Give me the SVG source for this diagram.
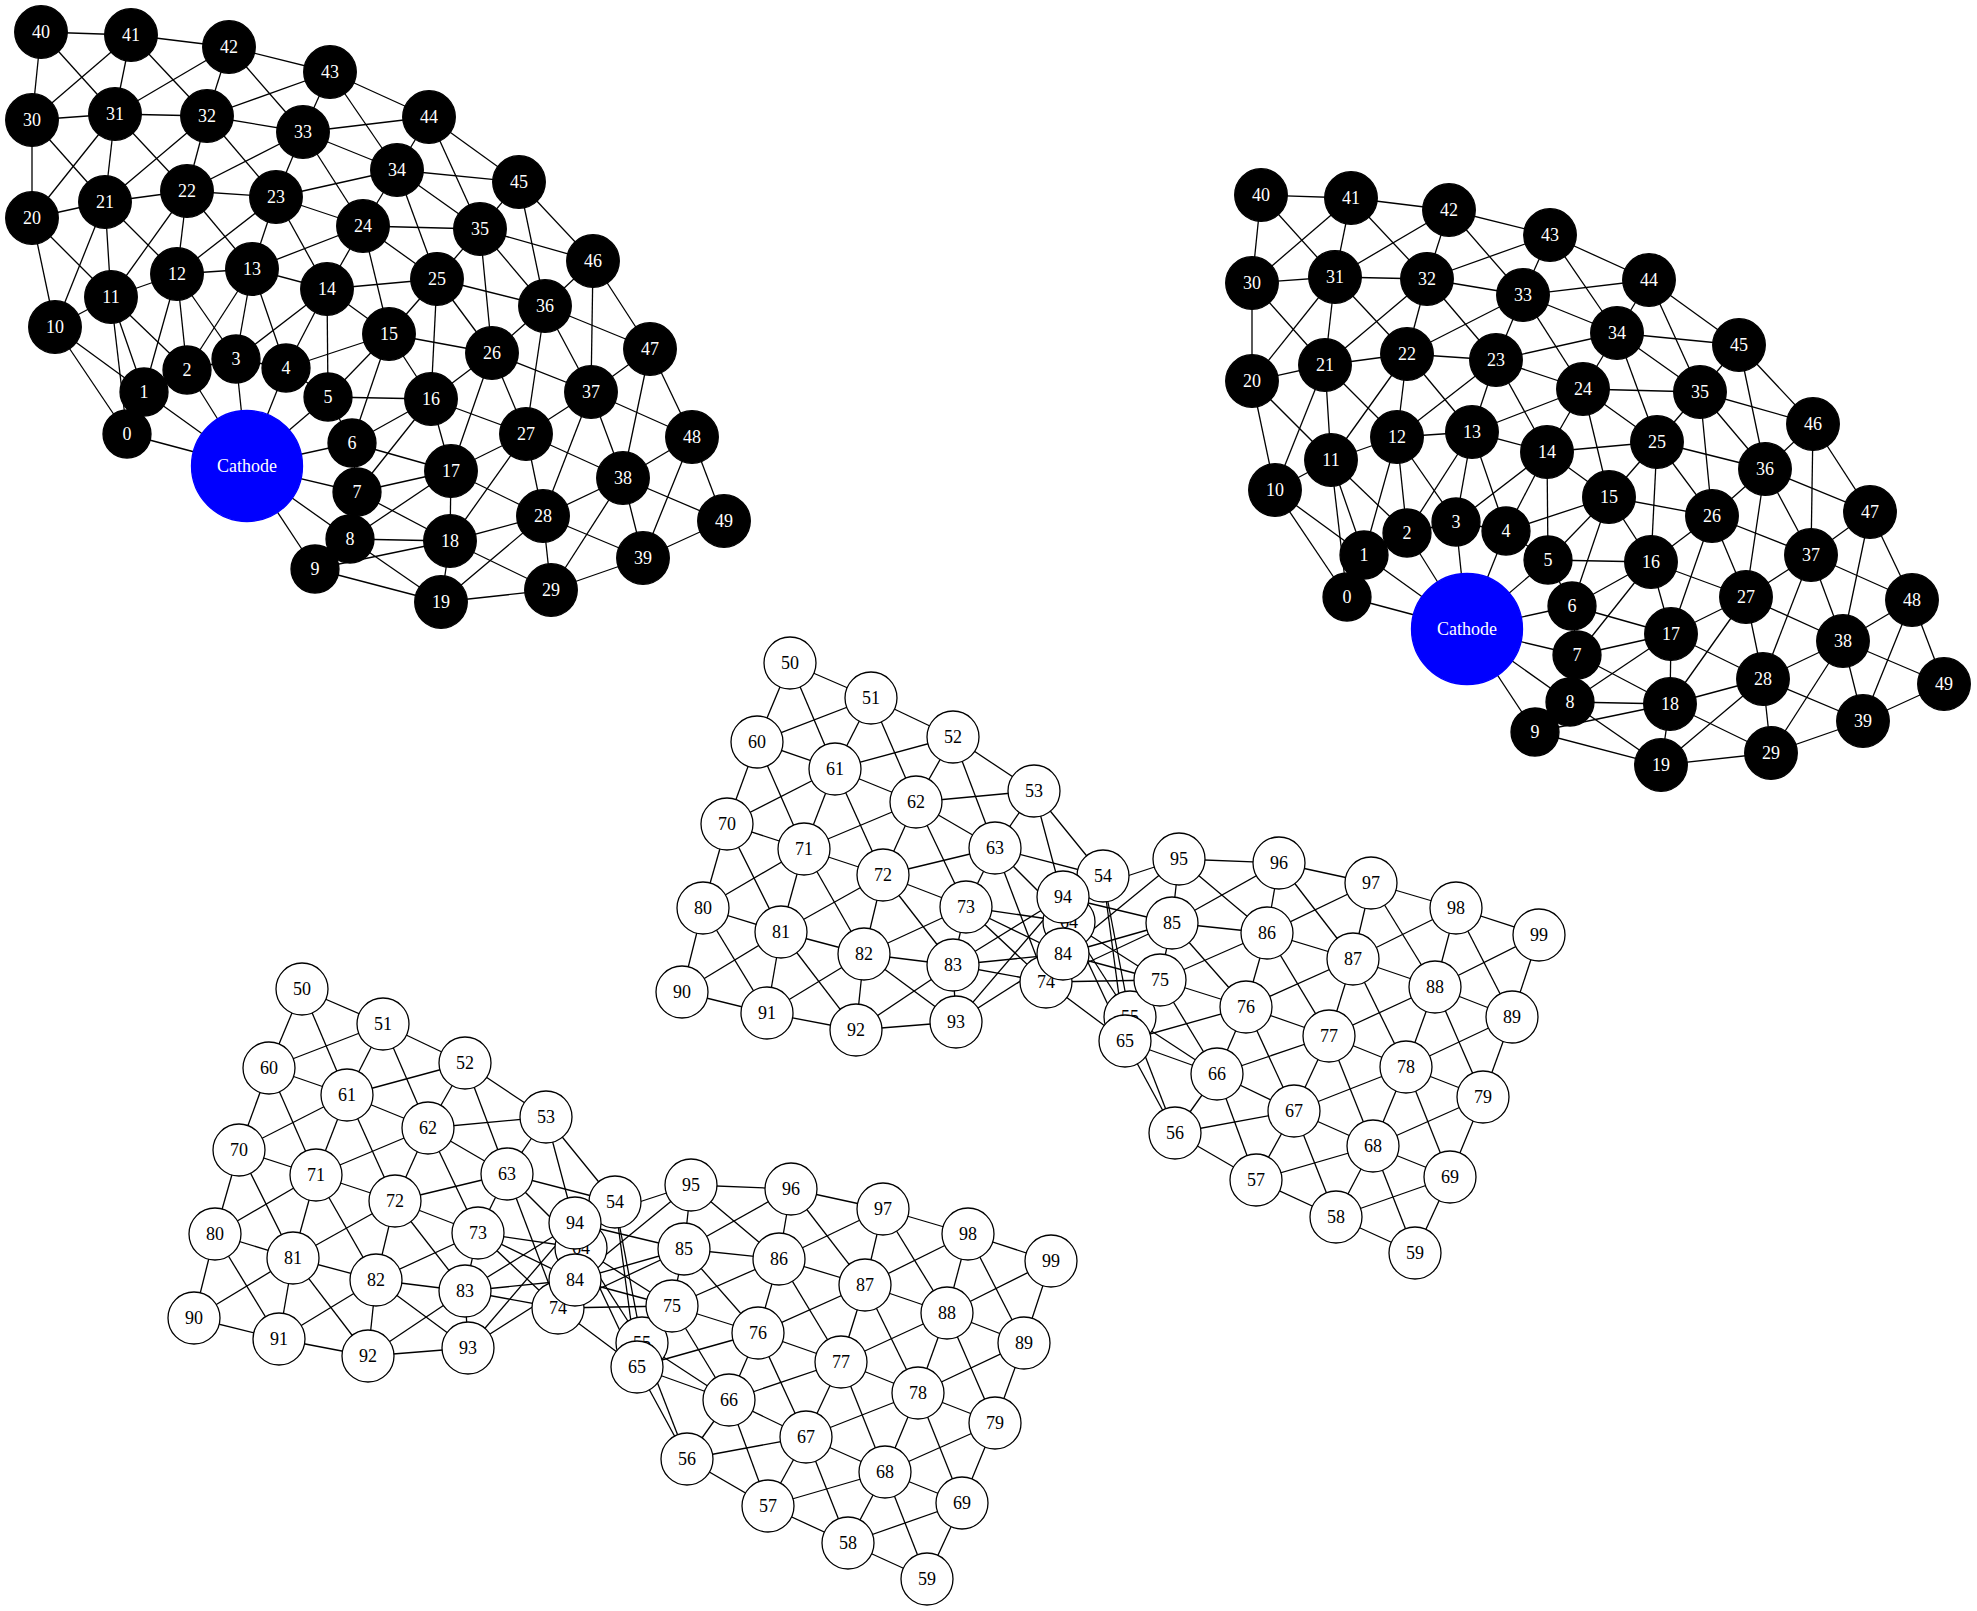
<svg xmlns="http://www.w3.org/2000/svg" width="1977" height="1611" viewBox="0 0 1977 1611">
<style>
.e path{stroke:#000;stroke-width:1.3;fill:none}
.b circle{fill:#000;stroke:#000;stroke-width:1.3}
.b text{fill:#fff}
.w circle{fill:#fff;stroke:#000;stroke-width:1.3}
.w text{fill:#000}
.c circle{fill:#0000ff;stroke:#0000ff;stroke-width:1.3}
.c text{fill:#fff}
text{font-family:"Liberation Serif","Times New Roman",serif;font-size:18px;text-anchor:middle}
</style>
<rect width="1977" height="1611" fill="#fff"/>

<g id="cluster-black-left">
<g id="edges-black-left" class="e">
<path d="M247 466L127 434"/><path d="M247 466L144 392"/><path d="M247 466L187 370"/><path d="M247 466L236 359"/><path d="M247 466L286 368"/><path d="M247 466L328 397"/><path d="M247 466L352 443"/><path d="M247 466L357 492"/><path d="M247 466L350 539"/><path d="M247 466L315 569"/>
<path d="M127 434L144 392"/><path d="M144 392L187 370"/><path d="M187 370L236 359"/><path d="M236 359L286 368"/><path d="M286 368L328 397"/><path d="M328 397L352 443"/><path d="M352 443L357 492"/><path d="M357 492L350 539"/><path d="M350 539L315 569"/>
<path d="M127 434L55 327"/><path d="M144 392L111 297"/><path d="M187 370L177 274"/><path d="M236 359L252 269"/><path d="M286 368L327 289"/><path d="M328 397L389 334"/><path d="M352 443L431 399"/><path d="M357 492L451 471"/><path d="M350 539L450 541"/><path d="M315 569L441 602"/>
<path d="M144 392L55 327"/><path d="M187 370L111 297"/><path d="M236 359L177 274"/><path d="M286 368L252 269"/><path d="M328 397L327 289"/><path d="M352 443L389 334"/><path d="M357 492L431 399"/><path d="M350 539L451 471"/><path d="M315 569L450 541"/>
<path d="M127 434L111 297"/><path d="M144 392L177 274"/><path d="M187 370L252 269"/><path d="M236 359L327 289"/><path d="M286 368L389 334"/><path d="M328 397L431 399"/><path d="M352 443L451 471"/><path d="M357 492L450 541"/><path d="M350 539L441 602"/>
<path d="M55 327L111 297"/><path d="M111 297L177 274"/><path d="M177 274L252 269"/><path d="M252 269L327 289"/><path d="M327 289L389 334"/><path d="M389 334L431 399"/><path d="M431 399L451 471"/><path d="M451 471L450 541"/><path d="M450 541L441 602"/>
<path d="M55 327L32 218"/><path d="M111 297L105 202"/><path d="M177 274L187 191"/><path d="M252 269L276 197"/><path d="M327 289L363 226"/><path d="M389 334L437 279"/><path d="M431 399L492 353"/><path d="M451 471L526 434"/><path d="M450 541L543 516"/><path d="M441 602L551 590"/>
<path d="M111 297L32 218"/><path d="M177 274L105 202"/><path d="M252 269L187 191"/><path d="M327 289L276 197"/><path d="M389 334L363 226"/><path d="M431 399L437 279"/><path d="M451 471L492 353"/><path d="M450 541L526 434"/><path d="M441 602L543 516"/>
<path d="M55 327L105 202"/><path d="M111 297L187 191"/><path d="M177 274L276 197"/><path d="M252 269L363 226"/><path d="M327 289L437 279"/><path d="M389 334L492 353"/><path d="M431 399L526 434"/><path d="M451 471L543 516"/><path d="M450 541L551 590"/>
<path d="M32 218L105 202"/><path d="M105 202L187 191"/><path d="M187 191L276 197"/><path d="M276 197L363 226"/><path d="M363 226L437 279"/><path d="M437 279L492 353"/><path d="M492 353L526 434"/><path d="M526 434L543 516"/><path d="M543 516L551 590"/>
<path d="M32 218L32 120"/><path d="M105 202L115 114"/><path d="M187 191L207 116"/><path d="M276 197L303 132"/><path d="M363 226L397 170"/><path d="M437 279L480 229"/><path d="M492 353L545 306"/><path d="M526 434L591 392"/><path d="M543 516L623 478"/><path d="M551 590L643 558"/>
<path d="M105 202L32 120"/><path d="M187 191L115 114"/><path d="M276 197L207 116"/><path d="M363 226L303 132"/><path d="M437 279L397 170"/><path d="M492 353L480 229"/><path d="M526 434L545 306"/><path d="M543 516L591 392"/><path d="M551 590L623 478"/>
<path d="M32 218L115 114"/><path d="M105 202L207 116"/><path d="M187 191L303 132"/><path d="M276 197L397 170"/><path d="M363 226L480 229"/><path d="M437 279L545 306"/><path d="M492 353L591 392"/><path d="M526 434L623 478"/><path d="M543 516L643 558"/>
<path d="M32 120L115 114"/><path d="M115 114L207 116"/><path d="M207 116L303 132"/><path d="M303 132L397 170"/><path d="M397 170L480 229"/><path d="M480 229L545 306"/><path d="M545 306L591 392"/><path d="M591 392L623 478"/><path d="M623 478L643 558"/>
<path d="M32 120L41 32"/><path d="M115 114L131 35"/><path d="M207 116L229 47"/><path d="M303 132L330 72"/><path d="M397 170L429 117"/><path d="M480 229L519 182"/><path d="M545 306L593 261"/><path d="M591 392L650 349"/><path d="M623 478L692 437"/><path d="M643 558L724 521"/>
<path d="M115 114L41 32"/><path d="M207 116L131 35"/><path d="M303 132L229 47"/><path d="M397 170L330 72"/><path d="M480 229L429 117"/><path d="M545 306L519 182"/><path d="M591 392L593 261"/><path d="M623 478L650 349"/><path d="M643 558L692 437"/>
<path d="M32 120L131 35"/><path d="M115 114L229 47"/><path d="M207 116L330 72"/><path d="M303 132L429 117"/><path d="M397 170L519 182"/><path d="M480 229L593 261"/><path d="M545 306L650 349"/><path d="M591 392L692 437"/><path d="M623 478L724 521"/>
<path d="M41 32L131 35"/><path d="M131 35L229 47"/><path d="M229 47L330 72"/><path d="M330 72L429 117"/><path d="M429 117L519 182"/><path d="M519 182L593 261"/><path d="M593 261L650 349"/><path d="M650 349L692 437"/><path d="M692 437L724 521"/>
</g>
<g id="nodes-black-left">
<g id="L-cathode" class="c"><circle cx="247" cy="466" r="55.5"/><text x="247" y="472">Cathode</text></g>
<g id="L0" class="b"><circle cx="127" cy="434" r="24"/><text x="127" y="440">0</text></g>
<g id="L1" class="b"><circle cx="144" cy="392" r="24"/><text x="144" y="398">1</text></g>
<g id="L2" class="b"><circle cx="187" cy="370" r="24"/><text x="187" y="376">2</text></g>
<g id="L3" class="b"><circle cx="236" cy="359" r="24"/><text x="236" y="365">3</text></g>
<g id="L4" class="b"><circle cx="286" cy="368" r="24"/><text x="286" y="374">4</text></g>
<g id="L5" class="b"><circle cx="328" cy="397" r="24"/><text x="328" y="403">5</text></g>
<g id="L6" class="b"><circle cx="352" cy="443" r="24"/><text x="352" y="449">6</text></g>
<g id="L7" class="b"><circle cx="357" cy="492" r="24"/><text x="357" y="498">7</text></g>
<g id="L8" class="b"><circle cx="350" cy="539" r="24"/><text x="350" y="545">8</text></g>
<g id="L9" class="b"><circle cx="315" cy="569" r="24"/><text x="315" y="575">9</text></g>
<g id="L10" class="b"><circle cx="55" cy="327" r="26.3"/><text x="55" y="333">10</text></g>
<g id="L11" class="b"><circle cx="111" cy="297" r="26.3"/><text x="111" y="303">11</text></g>
<g id="L12" class="b"><circle cx="177" cy="274" r="26.3"/><text x="177" y="280">12</text></g>
<g id="L13" class="b"><circle cx="252" cy="269" r="26.3"/><text x="252" y="275">13</text></g>
<g id="L14" class="b"><circle cx="327" cy="289" r="26.3"/><text x="327" y="295">14</text></g>
<g id="L15" class="b"><circle cx="389" cy="334" r="26.3"/><text x="389" y="340">15</text></g>
<g id="L16" class="b"><circle cx="431" cy="399" r="26.3"/><text x="431" y="405">16</text></g>
<g id="L17" class="b"><circle cx="451" cy="471" r="26.3"/><text x="451" y="477">17</text></g>
<g id="L18" class="b"><circle cx="450" cy="541" r="26.3"/><text x="450" y="547">18</text></g>
<g id="L19" class="b"><circle cx="441" cy="602" r="26.3"/><text x="441" y="608">19</text></g>
<g id="L20" class="b"><circle cx="32" cy="218" r="26.3"/><text x="32" y="224">20</text></g>
<g id="L21" class="b"><circle cx="105" cy="202" r="26.3"/><text x="105" y="208">21</text></g>
<g id="L22" class="b"><circle cx="187" cy="191" r="26.3"/><text x="187" y="197">22</text></g>
<g id="L23" class="b"><circle cx="276" cy="197" r="26.3"/><text x="276" y="203">23</text></g>
<g id="L24" class="b"><circle cx="363" cy="226" r="26.3"/><text x="363" y="232">24</text></g>
<g id="L25" class="b"><circle cx="437" cy="279" r="26.3"/><text x="437" y="285">25</text></g>
<g id="L26" class="b"><circle cx="492" cy="353" r="26.3"/><text x="492" y="359">26</text></g>
<g id="L27" class="b"><circle cx="526" cy="434" r="26.3"/><text x="526" y="440">27</text></g>
<g id="L28" class="b"><circle cx="543" cy="516" r="26.3"/><text x="543" y="522">28</text></g>
<g id="L29" class="b"><circle cx="551" cy="590" r="26.3"/><text x="551" y="596">29</text></g>
<g id="L30" class="b"><circle cx="32" cy="120" r="26.3"/><text x="32" y="126">30</text></g>
<g id="L31" class="b"><circle cx="115" cy="114" r="26.3"/><text x="115" y="120">31</text></g>
<g id="L32" class="b"><circle cx="207" cy="116" r="26.3"/><text x="207" y="122">32</text></g>
<g id="L33" class="b"><circle cx="303" cy="132" r="26.3"/><text x="303" y="138">33</text></g>
<g id="L34" class="b"><circle cx="397" cy="170" r="26.3"/><text x="397" y="176">34</text></g>
<g id="L35" class="b"><circle cx="480" cy="229" r="26.3"/><text x="480" y="235">35</text></g>
<g id="L36" class="b"><circle cx="545" cy="306" r="26.3"/><text x="545" y="312">36</text></g>
<g id="L37" class="b"><circle cx="591" cy="392" r="26.3"/><text x="591" y="398">37</text></g>
<g id="L38" class="b"><circle cx="623" cy="478" r="26.3"/><text x="623" y="484">38</text></g>
<g id="L39" class="b"><circle cx="643" cy="558" r="26.3"/><text x="643" y="564">39</text></g>
<g id="L40" class="b"><circle cx="41" cy="32" r="26.3"/><text x="41" y="38">40</text></g>
<g id="L41" class="b"><circle cx="131" cy="35" r="26.3"/><text x="131" y="41">41</text></g>
<g id="L42" class="b"><circle cx="229" cy="47" r="26.3"/><text x="229" y="53">42</text></g>
<g id="L43" class="b"><circle cx="330" cy="72" r="26.3"/><text x="330" y="78">43</text></g>
<g id="L44" class="b"><circle cx="429" cy="117" r="26.3"/><text x="429" y="123">44</text></g>
<g id="L45" class="b"><circle cx="519" cy="182" r="26.3"/><text x="519" y="188">45</text></g>
<g id="L46" class="b"><circle cx="593" cy="261" r="26.3"/><text x="593" y="267">46</text></g>
<g id="L47" class="b"><circle cx="650" cy="349" r="26.3"/><text x="650" y="355">47</text></g>
<g id="L48" class="b"><circle cx="692" cy="437" r="26.3"/><text x="692" y="443">48</text></g>
<g id="L49" class="b"><circle cx="724" cy="521" r="26.3"/><text x="724" y="527">49</text></g>
</g>
</g>

<g id="cluster-black-right" transform="translate(1220,163)">
<g id="edges-black-right" class="e">
<path d="M247 466L127 434"/><path d="M247 466L144 392"/><path d="M247 466L187 370"/><path d="M247 466L236 359"/><path d="M247 466L286 368"/><path d="M247 466L328 397"/><path d="M247 466L352 443"/><path d="M247 466L357 492"/><path d="M247 466L350 539"/><path d="M247 466L315 569"/>
<path d="M127 434L144 392"/><path d="M144 392L187 370"/><path d="M187 370L236 359"/><path d="M236 359L286 368"/><path d="M286 368L328 397"/><path d="M328 397L352 443"/><path d="M352 443L357 492"/><path d="M357 492L350 539"/><path d="M350 539L315 569"/>
<path d="M127 434L55 327"/><path d="M144 392L111 297"/><path d="M187 370L177 274"/><path d="M236 359L252 269"/><path d="M286 368L327 289"/><path d="M328 397L389 334"/><path d="M352 443L431 399"/><path d="M357 492L451 471"/><path d="M350 539L450 541"/><path d="M315 569L441 602"/>
<path d="M144 392L55 327"/><path d="M187 370L111 297"/><path d="M236 359L177 274"/><path d="M286 368L252 269"/><path d="M328 397L327 289"/><path d="M352 443L389 334"/><path d="M357 492L431 399"/><path d="M350 539L451 471"/><path d="M315 569L450 541"/>
<path d="M127 434L111 297"/><path d="M144 392L177 274"/><path d="M187 370L252 269"/><path d="M236 359L327 289"/><path d="M286 368L389 334"/><path d="M328 397L431 399"/><path d="M352 443L451 471"/><path d="M357 492L450 541"/><path d="M350 539L441 602"/>
<path d="M55 327L111 297"/><path d="M111 297L177 274"/><path d="M177 274L252 269"/><path d="M252 269L327 289"/><path d="M327 289L389 334"/><path d="M389 334L431 399"/><path d="M431 399L451 471"/><path d="M451 471L450 541"/><path d="M450 541L441 602"/>
<path d="M55 327L32 218"/><path d="M111 297L105 202"/><path d="M177 274L187 191"/><path d="M252 269L276 197"/><path d="M327 289L363 226"/><path d="M389 334L437 279"/><path d="M431 399L492 353"/><path d="M451 471L526 434"/><path d="M450 541L543 516"/><path d="M441 602L551 590"/>
<path d="M111 297L32 218"/><path d="M177 274L105 202"/><path d="M252 269L187 191"/><path d="M327 289L276 197"/><path d="M389 334L363 226"/><path d="M431 399L437 279"/><path d="M451 471L492 353"/><path d="M450 541L526 434"/><path d="M441 602L543 516"/>
<path d="M55 327L105 202"/><path d="M111 297L187 191"/><path d="M177 274L276 197"/><path d="M252 269L363 226"/><path d="M327 289L437 279"/><path d="M389 334L492 353"/><path d="M431 399L526 434"/><path d="M451 471L543 516"/><path d="M450 541L551 590"/>
<path d="M32 218L105 202"/><path d="M105 202L187 191"/><path d="M187 191L276 197"/><path d="M276 197L363 226"/><path d="M363 226L437 279"/><path d="M437 279L492 353"/><path d="M492 353L526 434"/><path d="M526 434L543 516"/><path d="M543 516L551 590"/>
<path d="M32 218L32 120"/><path d="M105 202L115 114"/><path d="M187 191L207 116"/><path d="M276 197L303 132"/><path d="M363 226L397 170"/><path d="M437 279L480 229"/><path d="M492 353L545 306"/><path d="M526 434L591 392"/><path d="M543 516L623 478"/><path d="M551 590L643 558"/>
<path d="M105 202L32 120"/><path d="M187 191L115 114"/><path d="M276 197L207 116"/><path d="M363 226L303 132"/><path d="M437 279L397 170"/><path d="M492 353L480 229"/><path d="M526 434L545 306"/><path d="M543 516L591 392"/><path d="M551 590L623 478"/>
<path d="M32 218L115 114"/><path d="M105 202L207 116"/><path d="M187 191L303 132"/><path d="M276 197L397 170"/><path d="M363 226L480 229"/><path d="M437 279L545 306"/><path d="M492 353L591 392"/><path d="M526 434L623 478"/><path d="M543 516L643 558"/>
<path d="M32 120L115 114"/><path d="M115 114L207 116"/><path d="M207 116L303 132"/><path d="M303 132L397 170"/><path d="M397 170L480 229"/><path d="M480 229L545 306"/><path d="M545 306L591 392"/><path d="M591 392L623 478"/><path d="M623 478L643 558"/>
<path d="M32 120L41 32"/><path d="M115 114L131 35"/><path d="M207 116L229 47"/><path d="M303 132L330 72"/><path d="M397 170L429 117"/><path d="M480 229L519 182"/><path d="M545 306L593 261"/><path d="M591 392L650 349"/><path d="M623 478L692 437"/><path d="M643 558L724 521"/>
<path d="M115 114L41 32"/><path d="M207 116L131 35"/><path d="M303 132L229 47"/><path d="M397 170L330 72"/><path d="M480 229L429 117"/><path d="M545 306L519 182"/><path d="M591 392L593 261"/><path d="M623 478L650 349"/><path d="M643 558L692 437"/>
<path d="M32 120L131 35"/><path d="M115 114L229 47"/><path d="M207 116L330 72"/><path d="M303 132L429 117"/><path d="M397 170L519 182"/><path d="M480 229L593 261"/><path d="M545 306L650 349"/><path d="M591 392L692 437"/><path d="M623 478L724 521"/>
<path d="M41 32L131 35"/><path d="M131 35L229 47"/><path d="M229 47L330 72"/><path d="M330 72L429 117"/><path d="M429 117L519 182"/><path d="M519 182L593 261"/><path d="M593 261L650 349"/><path d="M650 349L692 437"/><path d="M692 437L724 521"/>
</g>
<g id="nodes-black-right">
<g id="R-cathode" class="c"><circle cx="247" cy="466" r="55.5"/><text x="247" y="472">Cathode</text></g>
<g id="R0" class="b"><circle cx="127" cy="434" r="24"/><text x="127" y="440">0</text></g>
<g id="R1" class="b"><circle cx="144" cy="392" r="24"/><text x="144" y="398">1</text></g>
<g id="R2" class="b"><circle cx="187" cy="370" r="24"/><text x="187" y="376">2</text></g>
<g id="R3" class="b"><circle cx="236" cy="359" r="24"/><text x="236" y="365">3</text></g>
<g id="R4" class="b"><circle cx="286" cy="368" r="24"/><text x="286" y="374">4</text></g>
<g id="R5" class="b"><circle cx="328" cy="397" r="24"/><text x="328" y="403">5</text></g>
<g id="R6" class="b"><circle cx="352" cy="443" r="24"/><text x="352" y="449">6</text></g>
<g id="R7" class="b"><circle cx="357" cy="492" r="24"/><text x="357" y="498">7</text></g>
<g id="R8" class="b"><circle cx="350" cy="539" r="24"/><text x="350" y="545">8</text></g>
<g id="R9" class="b"><circle cx="315" cy="569" r="24"/><text x="315" y="575">9</text></g>
<g id="R10" class="b"><circle cx="55" cy="327" r="26.3"/><text x="55" y="333">10</text></g>
<g id="R11" class="b"><circle cx="111" cy="297" r="26.3"/><text x="111" y="303">11</text></g>
<g id="R12" class="b"><circle cx="177" cy="274" r="26.3"/><text x="177" y="280">12</text></g>
<g id="R13" class="b"><circle cx="252" cy="269" r="26.3"/><text x="252" y="275">13</text></g>
<g id="R14" class="b"><circle cx="327" cy="289" r="26.3"/><text x="327" y="295">14</text></g>
<g id="R15" class="b"><circle cx="389" cy="334" r="26.3"/><text x="389" y="340">15</text></g>
<g id="R16" class="b"><circle cx="431" cy="399" r="26.3"/><text x="431" y="405">16</text></g>
<g id="R17" class="b"><circle cx="451" cy="471" r="26.3"/><text x="451" y="477">17</text></g>
<g id="R18" class="b"><circle cx="450" cy="541" r="26.3"/><text x="450" y="547">18</text></g>
<g id="R19" class="b"><circle cx="441" cy="602" r="26.3"/><text x="441" y="608">19</text></g>
<g id="R20" class="b"><circle cx="32" cy="218" r="26.3"/><text x="32" y="224">20</text></g>
<g id="R21" class="b"><circle cx="105" cy="202" r="26.3"/><text x="105" y="208">21</text></g>
<g id="R22" class="b"><circle cx="187" cy="191" r="26.3"/><text x="187" y="197">22</text></g>
<g id="R23" class="b"><circle cx="276" cy="197" r="26.3"/><text x="276" y="203">23</text></g>
<g id="R24" class="b"><circle cx="363" cy="226" r="26.3"/><text x="363" y="232">24</text></g>
<g id="R25" class="b"><circle cx="437" cy="279" r="26.3"/><text x="437" y="285">25</text></g>
<g id="R26" class="b"><circle cx="492" cy="353" r="26.3"/><text x="492" y="359">26</text></g>
<g id="R27" class="b"><circle cx="526" cy="434" r="26.3"/><text x="526" y="440">27</text></g>
<g id="R28" class="b"><circle cx="543" cy="516" r="26.3"/><text x="543" y="522">28</text></g>
<g id="R29" class="b"><circle cx="551" cy="590" r="26.3"/><text x="551" y="596">29</text></g>
<g id="R30" class="b"><circle cx="32" cy="120" r="26.3"/><text x="32" y="126">30</text></g>
<g id="R31" class="b"><circle cx="115" cy="114" r="26.3"/><text x="115" y="120">31</text></g>
<g id="R32" class="b"><circle cx="207" cy="116" r="26.3"/><text x="207" y="122">32</text></g>
<g id="R33" class="b"><circle cx="303" cy="132" r="26.3"/><text x="303" y="138">33</text></g>
<g id="R34" class="b"><circle cx="397" cy="170" r="26.3"/><text x="397" y="176">34</text></g>
<g id="R35" class="b"><circle cx="480" cy="229" r="26.3"/><text x="480" y="235">35</text></g>
<g id="R36" class="b"><circle cx="545" cy="306" r="26.3"/><text x="545" y="312">36</text></g>
<g id="R37" class="b"><circle cx="591" cy="392" r="26.3"/><text x="591" y="398">37</text></g>
<g id="R38" class="b"><circle cx="623" cy="478" r="26.3"/><text x="623" y="484">38</text></g>
<g id="R39" class="b"><circle cx="643" cy="558" r="26.3"/><text x="643" y="564">39</text></g>
<g id="R40" class="b"><circle cx="41" cy="32" r="26.3"/><text x="41" y="38">40</text></g>
<g id="R41" class="b"><circle cx="131" cy="35" r="26.3"/><text x="131" y="41">41</text></g>
<g id="R42" class="b"><circle cx="229" cy="47" r="26.3"/><text x="229" y="53">42</text></g>
<g id="R43" class="b"><circle cx="330" cy="72" r="26.3"/><text x="330" y="78">43</text></g>
<g id="R44" class="b"><circle cx="429" cy="117" r="26.3"/><text x="429" y="123">44</text></g>
<g id="R45" class="b"><circle cx="519" cy="182" r="26.3"/><text x="519" y="188">45</text></g>
<g id="R46" class="b"><circle cx="593" cy="261" r="26.3"/><text x="593" y="267">46</text></g>
<g id="R47" class="b"><circle cx="650" cy="349" r="26.3"/><text x="650" y="355">47</text></g>
<g id="R48" class="b"><circle cx="692" cy="437" r="26.3"/><text x="692" y="443">48</text></g>
<g id="R49" class="b"><circle cx="724" cy="521" r="26.3"/><text x="724" y="527">49</text></g>
</g>
</g>

<g id="cluster-white-middle">
<g id="edges-white-middle" class="e">
<path d="M790 663L871 698"/><path d="M871 698L953 737"/><path d="M953 737L1034 791"/><path d="M1034 791L1103 876"/><path d="M1103 876L1130 1017"/><path d="M1130 1017L1175 1133"/><path d="M1175 1133L1256 1180"/><path d="M1256 1180L1336 1217"/><path d="M1336 1217L1415 1253"/>
<path d="M790 663L757 742"/><path d="M871 698L835 769"/><path d="M953 737L916 802"/><path d="M1034 791L995 848"/><path d="M1103 876L1069 922"/><path d="M1130 1017L1125 1041"/><path d="M1175 1133L1217 1074"/><path d="M1256 1180L1294 1111"/><path d="M1336 1217L1373 1146"/><path d="M1415 1253L1450 1177"/>
<path d="M871 698L757 742"/><path d="M953 737L835 769"/><path d="M1034 791L916 802"/><path d="M1103 876L995 848"/><path d="M1130 1017L1069 922"/><path d="M1175 1133L1125 1041"/><path d="M1256 1180L1217 1074"/><path d="M1336 1217L1294 1111"/><path d="M1415 1253L1373 1146"/>
<path d="M790 663L835 769"/><path d="M871 698L916 802"/><path d="M953 737L995 848"/><path d="M1034 791L1069 922"/><path d="M1103 876L1125 1041"/><path d="M1130 1017L1217 1074"/><path d="M1175 1133L1294 1111"/><path d="M1256 1180L1373 1146"/><path d="M1336 1217L1450 1177"/>
<path d="M757 742L835 769"/><path d="M835 769L916 802"/><path d="M916 802L995 848"/><path d="M995 848L1069 922"/><path d="M1069 922L1125 1041"/><path d="M1125 1041L1217 1074"/><path d="M1217 1074L1294 1111"/><path d="M1294 1111L1373 1146"/><path d="M1373 1146L1450 1177"/>
<path d="M757 742L727 824"/><path d="M835 769L804 849"/><path d="M916 802L883 875"/><path d="M995 848L966 907"/><path d="M1069 922L1046 982"/><path d="M1125 1041L1160 980"/><path d="M1217 1074L1246 1007"/><path d="M1294 1111L1329 1036"/><path d="M1373 1146L1406 1067"/><path d="M1450 1177L1483 1097"/>
<path d="M835 769L727 824"/><path d="M916 802L804 849"/><path d="M995 848L883 875"/><path d="M1069 922L966 907"/><path d="M1125 1041L1046 982"/><path d="M1217 1074L1160 980"/><path d="M1294 1111L1246 1007"/><path d="M1373 1146L1329 1036"/><path d="M1450 1177L1406 1067"/>
<path d="M757 742L804 849"/><path d="M835 769L883 875"/><path d="M916 802L966 907"/><path d="M995 848L1046 982"/><path d="M1069 922L1160 980"/><path d="M1125 1041L1246 1007"/><path d="M1217 1074L1329 1036"/><path d="M1294 1111L1406 1067"/><path d="M1373 1146L1483 1097"/>
<path d="M727 824L804 849"/><path d="M804 849L883 875"/><path d="M883 875L966 907"/><path d="M966 907L1046 982"/><path d="M1046 982L1160 980"/><path d="M1160 980L1246 1007"/><path d="M1246 1007L1329 1036"/><path d="M1329 1036L1406 1067"/><path d="M1406 1067L1483 1097"/>
<path d="M727 824L703 908"/><path d="M804 849L781 932"/><path d="M883 875L864 954"/><path d="M966 907L953 965"/><path d="M1046 982L1063 954"/><path d="M1160 980L1172 923"/><path d="M1246 1007L1267 933"/><path d="M1329 1036L1353 959"/><path d="M1406 1067L1435 987"/><path d="M1483 1097L1512 1017"/>
<path d="M804 849L703 908"/><path d="M883 875L781 932"/><path d="M966 907L864 954"/><path d="M1046 982L953 965"/><path d="M1160 980L1063 954"/><path d="M1246 1007L1172 923"/><path d="M1329 1036L1267 933"/><path d="M1406 1067L1353 959"/><path d="M1483 1097L1435 987"/>
<path d="M727 824L781 932"/><path d="M804 849L864 954"/><path d="M883 875L953 965"/><path d="M966 907L1063 954"/><path d="M1046 982L1172 923"/><path d="M1160 980L1267 933"/><path d="M1246 1007L1353 959"/><path d="M1329 1036L1435 987"/><path d="M1406 1067L1512 1017"/>
<path d="M703 908L781 932"/><path d="M781 932L864 954"/><path d="M864 954L953 965"/><path d="M953 965L1063 954"/><path d="M1063 954L1172 923"/><path d="M1172 923L1267 933"/><path d="M1267 933L1353 959"/><path d="M1353 959L1435 987"/><path d="M1435 987L1512 1017"/>
<path d="M703 908L682 992"/><path d="M781 932L767 1013"/><path d="M864 954L856 1030"/><path d="M953 965L956 1022"/><path d="M1063 954L1063 897"/><path d="M1172 923L1179 859"/><path d="M1267 933L1279 863"/><path d="M1353 959L1371 883"/><path d="M1435 987L1456 908"/><path d="M1512 1017L1539 935"/>
<path d="M781 932L682 992"/><path d="M864 954L767 1013"/><path d="M953 965L856 1030"/><path d="M1063 954L956 1022"/><path d="M1172 923L1063 897"/><path d="M1267 933L1179 859"/><path d="M1353 959L1279 863"/><path d="M1435 987L1371 883"/><path d="M1512 1017L1456 908"/>
<path d="M703 908L767 1013"/><path d="M781 932L856 1030"/><path d="M864 954L956 1022"/><path d="M953 965L1063 897"/><path d="M1063 954L1179 859"/><path d="M1172 923L1279 863"/><path d="M1267 933L1371 883"/><path d="M1353 959L1456 908"/><path d="M1435 987L1539 935"/>
<path d="M682 992L767 1013"/><path d="M767 1013L856 1030"/><path d="M856 1030L956 1022"/><path d="M956 1022L1063 897"/><path d="M1063 897L1179 859"/><path d="M1179 859L1279 863"/><path d="M1279 863L1371 883"/><path d="M1371 883L1456 908"/><path d="M1456 908L1539 935"/>
</g>
<g id="nodes-white-middle">
<g id="M50" class="w"><circle cx="790" cy="663" r="26"/><text x="790" y="669">50</text></g>
<g id="M51" class="w"><circle cx="871" cy="698" r="26"/><text x="871" y="704">51</text></g>
<g id="M52" class="w"><circle cx="953" cy="737" r="26"/><text x="953" y="743">52</text></g>
<g id="M53" class="w"><circle cx="1034" cy="791" r="26"/><text x="1034" y="797">53</text></g>
<g id="M54" class="w"><circle cx="1103" cy="876" r="26"/><text x="1103" y="882">54</text></g>
<g id="M55" class="w"><circle cx="1130" cy="1017" r="26"/><text x="1130" y="1023">55</text></g>
<g id="M56" class="w"><circle cx="1175" cy="1133" r="26"/><text x="1175" y="1139">56</text></g>
<g id="M57" class="w"><circle cx="1256" cy="1180" r="26"/><text x="1256" y="1186">57</text></g>
<g id="M58" class="w"><circle cx="1336" cy="1217" r="26"/><text x="1336" y="1223">58</text></g>
<g id="M59" class="w"><circle cx="1415" cy="1253" r="26"/><text x="1415" y="1259">59</text></g>
<g id="M60" class="w"><circle cx="757" cy="742" r="26"/><text x="757" y="748">60</text></g>
<g id="M61" class="w"><circle cx="835" cy="769" r="26"/><text x="835" y="775">61</text></g>
<g id="M62" class="w"><circle cx="916" cy="802" r="26"/><text x="916" y="808">62</text></g>
<g id="M63" class="w"><circle cx="995" cy="848" r="26"/><text x="995" y="854">63</text></g>
<g id="M64" class="w"><circle cx="1069" cy="922" r="26"/><text x="1069" y="928">64</text></g>
<g id="M65" class="w"><circle cx="1125" cy="1041" r="26"/><text x="1125" y="1047">65</text></g>
<g id="M66" class="w"><circle cx="1217" cy="1074" r="26"/><text x="1217" y="1080">66</text></g>
<g id="M67" class="w"><circle cx="1294" cy="1111" r="26"/><text x="1294" y="1117">67</text></g>
<g id="M68" class="w"><circle cx="1373" cy="1146" r="26"/><text x="1373" y="1152">68</text></g>
<g id="M69" class="w"><circle cx="1450" cy="1177" r="26"/><text x="1450" y="1183">69</text></g>
<g id="M70" class="w"><circle cx="727" cy="824" r="26"/><text x="727" y="830">70</text></g>
<g id="M71" class="w"><circle cx="804" cy="849" r="26"/><text x="804" y="855">71</text></g>
<g id="M72" class="w"><circle cx="883" cy="875" r="26"/><text x="883" y="881">72</text></g>
<g id="M73" class="w"><circle cx="966" cy="907" r="26"/><text x="966" y="913">73</text></g>
<g id="M74" class="w"><circle cx="1046" cy="982" r="26"/><text x="1046" y="988">74</text></g>
<g id="M75" class="w"><circle cx="1160" cy="980" r="26"/><text x="1160" y="986">75</text></g>
<g id="M76" class="w"><circle cx="1246" cy="1007" r="26"/><text x="1246" y="1013">76</text></g>
<g id="M77" class="w"><circle cx="1329" cy="1036" r="26"/><text x="1329" y="1042">77</text></g>
<g id="M78" class="w"><circle cx="1406" cy="1067" r="26"/><text x="1406" y="1073">78</text></g>
<g id="M79" class="w"><circle cx="1483" cy="1097" r="26"/><text x="1483" y="1103">79</text></g>
<g id="M80" class="w"><circle cx="703" cy="908" r="26"/><text x="703" y="914">80</text></g>
<g id="M81" class="w"><circle cx="781" cy="932" r="26"/><text x="781" y="938">81</text></g>
<g id="M82" class="w"><circle cx="864" cy="954" r="26"/><text x="864" y="960">82</text></g>
<g id="M83" class="w"><circle cx="953" cy="965" r="26"/><text x="953" y="971">83</text></g>
<g id="M84" class="w"><circle cx="1063" cy="954" r="26"/><text x="1063" y="960">84</text></g>
<g id="M85" class="w"><circle cx="1172" cy="923" r="26"/><text x="1172" y="929">85</text></g>
<g id="M86" class="w"><circle cx="1267" cy="933" r="26"/><text x="1267" y="939">86</text></g>
<g id="M87" class="w"><circle cx="1353" cy="959" r="26"/><text x="1353" y="965">87</text></g>
<g id="M88" class="w"><circle cx="1435" cy="987" r="26"/><text x="1435" y="993">88</text></g>
<g id="M89" class="w"><circle cx="1512" cy="1017" r="26"/><text x="1512" y="1023">89</text></g>
<g id="M90" class="w"><circle cx="682" cy="992" r="26"/><text x="682" y="998">90</text></g>
<g id="M91" class="w"><circle cx="767" cy="1013" r="26"/><text x="767" y="1019">91</text></g>
<g id="M92" class="w"><circle cx="856" cy="1030" r="26"/><text x="856" y="1036">92</text></g>
<g id="M93" class="w"><circle cx="956" cy="1022" r="26"/><text x="956" y="1028">93</text></g>
<g id="M94" class="w"><circle cx="1063" cy="897" r="26"/><text x="1063" y="903">94</text></g>
<g id="M95" class="w"><circle cx="1179" cy="859" r="26"/><text x="1179" y="865">95</text></g>
<g id="M96" class="w"><circle cx="1279" cy="863" r="26"/><text x="1279" y="869">96</text></g>
<g id="M97" class="w"><circle cx="1371" cy="883" r="26"/><text x="1371" y="889">97</text></g>
<g id="M98" class="w"><circle cx="1456" cy="908" r="26"/><text x="1456" y="914">98</text></g>
<g id="M99" class="w"><circle cx="1539" cy="935" r="26"/><text x="1539" y="941">99</text></g>
</g>
</g>

<g id="cluster-white-bottom" transform="translate(-488,326)">
<g id="edges-white-bottom" class="e">
<path d="M790 663L871 698"/><path d="M871 698L953 737"/><path d="M953 737L1034 791"/><path d="M1034 791L1103 876"/><path d="M1103 876L1130 1017"/><path d="M1130 1017L1175 1133"/><path d="M1175 1133L1256 1180"/><path d="M1256 1180L1336 1217"/><path d="M1336 1217L1415 1253"/>
<path d="M790 663L757 742"/><path d="M871 698L835 769"/><path d="M953 737L916 802"/><path d="M1034 791L995 848"/><path d="M1103 876L1069 922"/><path d="M1130 1017L1125 1041"/><path d="M1175 1133L1217 1074"/><path d="M1256 1180L1294 1111"/><path d="M1336 1217L1373 1146"/><path d="M1415 1253L1450 1177"/>
<path d="M871 698L757 742"/><path d="M953 737L835 769"/><path d="M1034 791L916 802"/><path d="M1103 876L995 848"/><path d="M1130 1017L1069 922"/><path d="M1175 1133L1125 1041"/><path d="M1256 1180L1217 1074"/><path d="M1336 1217L1294 1111"/><path d="M1415 1253L1373 1146"/>
<path d="M790 663L835 769"/><path d="M871 698L916 802"/><path d="M953 737L995 848"/><path d="M1034 791L1069 922"/><path d="M1103 876L1125 1041"/><path d="M1130 1017L1217 1074"/><path d="M1175 1133L1294 1111"/><path d="M1256 1180L1373 1146"/><path d="M1336 1217L1450 1177"/>
<path d="M757 742L835 769"/><path d="M835 769L916 802"/><path d="M916 802L995 848"/><path d="M995 848L1069 922"/><path d="M1069 922L1125 1041"/><path d="M1125 1041L1217 1074"/><path d="M1217 1074L1294 1111"/><path d="M1294 1111L1373 1146"/><path d="M1373 1146L1450 1177"/>
<path d="M757 742L727 824"/><path d="M835 769L804 849"/><path d="M916 802L883 875"/><path d="M995 848L966 907"/><path d="M1069 922L1046 982"/><path d="M1125 1041L1160 980"/><path d="M1217 1074L1246 1007"/><path d="M1294 1111L1329 1036"/><path d="M1373 1146L1406 1067"/><path d="M1450 1177L1483 1097"/>
<path d="M835 769L727 824"/><path d="M916 802L804 849"/><path d="M995 848L883 875"/><path d="M1069 922L966 907"/><path d="M1125 1041L1046 982"/><path d="M1217 1074L1160 980"/><path d="M1294 1111L1246 1007"/><path d="M1373 1146L1329 1036"/><path d="M1450 1177L1406 1067"/>
<path d="M757 742L804 849"/><path d="M835 769L883 875"/><path d="M916 802L966 907"/><path d="M995 848L1046 982"/><path d="M1069 922L1160 980"/><path d="M1125 1041L1246 1007"/><path d="M1217 1074L1329 1036"/><path d="M1294 1111L1406 1067"/><path d="M1373 1146L1483 1097"/>
<path d="M727 824L804 849"/><path d="M804 849L883 875"/><path d="M883 875L966 907"/><path d="M966 907L1046 982"/><path d="M1046 982L1160 980"/><path d="M1160 980L1246 1007"/><path d="M1246 1007L1329 1036"/><path d="M1329 1036L1406 1067"/><path d="M1406 1067L1483 1097"/>
<path d="M727 824L703 908"/><path d="M804 849L781 932"/><path d="M883 875L864 954"/><path d="M966 907L953 965"/><path d="M1046 982L1063 954"/><path d="M1160 980L1172 923"/><path d="M1246 1007L1267 933"/><path d="M1329 1036L1353 959"/><path d="M1406 1067L1435 987"/><path d="M1483 1097L1512 1017"/>
<path d="M804 849L703 908"/><path d="M883 875L781 932"/><path d="M966 907L864 954"/><path d="M1046 982L953 965"/><path d="M1160 980L1063 954"/><path d="M1246 1007L1172 923"/><path d="M1329 1036L1267 933"/><path d="M1406 1067L1353 959"/><path d="M1483 1097L1435 987"/>
<path d="M727 824L781 932"/><path d="M804 849L864 954"/><path d="M883 875L953 965"/><path d="M966 907L1063 954"/><path d="M1046 982L1172 923"/><path d="M1160 980L1267 933"/><path d="M1246 1007L1353 959"/><path d="M1329 1036L1435 987"/><path d="M1406 1067L1512 1017"/>
<path d="M703 908L781 932"/><path d="M781 932L864 954"/><path d="M864 954L953 965"/><path d="M953 965L1063 954"/><path d="M1063 954L1172 923"/><path d="M1172 923L1267 933"/><path d="M1267 933L1353 959"/><path d="M1353 959L1435 987"/><path d="M1435 987L1512 1017"/>
<path d="M703 908L682 992"/><path d="M781 932L767 1013"/><path d="M864 954L856 1030"/><path d="M953 965L956 1022"/><path d="M1063 954L1063 897"/><path d="M1172 923L1179 859"/><path d="M1267 933L1279 863"/><path d="M1353 959L1371 883"/><path d="M1435 987L1456 908"/><path d="M1512 1017L1539 935"/>
<path d="M781 932L682 992"/><path d="M864 954L767 1013"/><path d="M953 965L856 1030"/><path d="M1063 954L956 1022"/><path d="M1172 923L1063 897"/><path d="M1267 933L1179 859"/><path d="M1353 959L1279 863"/><path d="M1435 987L1371 883"/><path d="M1512 1017L1456 908"/>
<path d="M703 908L767 1013"/><path d="M781 932L856 1030"/><path d="M864 954L956 1022"/><path d="M953 965L1063 897"/><path d="M1063 954L1179 859"/><path d="M1172 923L1279 863"/><path d="M1267 933L1371 883"/><path d="M1353 959L1456 908"/><path d="M1435 987L1539 935"/>
<path d="M682 992L767 1013"/><path d="M767 1013L856 1030"/><path d="M856 1030L956 1022"/><path d="M956 1022L1063 897"/><path d="M1063 897L1179 859"/><path d="M1179 859L1279 863"/><path d="M1279 863L1371 883"/><path d="M1371 883L1456 908"/><path d="M1456 908L1539 935"/>
</g>
<g id="nodes-white-bottom">
<g id="B50" class="w"><circle cx="790" cy="663" r="26"/><text x="790" y="669">50</text></g>
<g id="B51" class="w"><circle cx="871" cy="698" r="26"/><text x="871" y="704">51</text></g>
<g id="B52" class="w"><circle cx="953" cy="737" r="26"/><text x="953" y="743">52</text></g>
<g id="B53" class="w"><circle cx="1034" cy="791" r="26"/><text x="1034" y="797">53</text></g>
<g id="B54" class="w"><circle cx="1103" cy="876" r="26"/><text x="1103" y="882">54</text></g>
<g id="B55" class="w"><circle cx="1130" cy="1017" r="26"/><text x="1130" y="1023">55</text></g>
<g id="B56" class="w"><circle cx="1175" cy="1133" r="26"/><text x="1175" y="1139">56</text></g>
<g id="B57" class="w"><circle cx="1256" cy="1180" r="26"/><text x="1256" y="1186">57</text></g>
<g id="B58" class="w"><circle cx="1336" cy="1217" r="26"/><text x="1336" y="1223">58</text></g>
<g id="B59" class="w"><circle cx="1415" cy="1253" r="26"/><text x="1415" y="1259">59</text></g>
<g id="B60" class="w"><circle cx="757" cy="742" r="26"/><text x="757" y="748">60</text></g>
<g id="B61" class="w"><circle cx="835" cy="769" r="26"/><text x="835" y="775">61</text></g>
<g id="B62" class="w"><circle cx="916" cy="802" r="26"/><text x="916" y="808">62</text></g>
<g id="B63" class="w"><circle cx="995" cy="848" r="26"/><text x="995" y="854">63</text></g>
<g id="B64" class="w"><circle cx="1069" cy="922" r="26"/><text x="1069" y="928">64</text></g>
<g id="B65" class="w"><circle cx="1125" cy="1041" r="26"/><text x="1125" y="1047">65</text></g>
<g id="B66" class="w"><circle cx="1217" cy="1074" r="26"/><text x="1217" y="1080">66</text></g>
<g id="B67" class="w"><circle cx="1294" cy="1111" r="26"/><text x="1294" y="1117">67</text></g>
<g id="B68" class="w"><circle cx="1373" cy="1146" r="26"/><text x="1373" y="1152">68</text></g>
<g id="B69" class="w"><circle cx="1450" cy="1177" r="26"/><text x="1450" y="1183">69</text></g>
<g id="B70" class="w"><circle cx="727" cy="824" r="26"/><text x="727" y="830">70</text></g>
<g id="B71" class="w"><circle cx="804" cy="849" r="26"/><text x="804" y="855">71</text></g>
<g id="B72" class="w"><circle cx="883" cy="875" r="26"/><text x="883" y="881">72</text></g>
<g id="B73" class="w"><circle cx="966" cy="907" r="26"/><text x="966" y="913">73</text></g>
<g id="B74" class="w"><circle cx="1046" cy="982" r="26"/><text x="1046" y="988">74</text></g>
<g id="B75" class="w"><circle cx="1160" cy="980" r="26"/><text x="1160" y="986">75</text></g>
<g id="B76" class="w"><circle cx="1246" cy="1007" r="26"/><text x="1246" y="1013">76</text></g>
<g id="B77" class="w"><circle cx="1329" cy="1036" r="26"/><text x="1329" y="1042">77</text></g>
<g id="B78" class="w"><circle cx="1406" cy="1067" r="26"/><text x="1406" y="1073">78</text></g>
<g id="B79" class="w"><circle cx="1483" cy="1097" r="26"/><text x="1483" y="1103">79</text></g>
<g id="B80" class="w"><circle cx="703" cy="908" r="26"/><text x="703" y="914">80</text></g>
<g id="B81" class="w"><circle cx="781" cy="932" r="26"/><text x="781" y="938">81</text></g>
<g id="B82" class="w"><circle cx="864" cy="954" r="26"/><text x="864" y="960">82</text></g>
<g id="B83" class="w"><circle cx="953" cy="965" r="26"/><text x="953" y="971">83</text></g>
<g id="B84" class="w"><circle cx="1063" cy="954" r="26"/><text x="1063" y="960">84</text></g>
<g id="B85" class="w"><circle cx="1172" cy="923" r="26"/><text x="1172" y="929">85</text></g>
<g id="B86" class="w"><circle cx="1267" cy="933" r="26"/><text x="1267" y="939">86</text></g>
<g id="B87" class="w"><circle cx="1353" cy="959" r="26"/><text x="1353" y="965">87</text></g>
<g id="B88" class="w"><circle cx="1435" cy="987" r="26"/><text x="1435" y="993">88</text></g>
<g id="B89" class="w"><circle cx="1512" cy="1017" r="26"/><text x="1512" y="1023">89</text></g>
<g id="B90" class="w"><circle cx="682" cy="992" r="26"/><text x="682" y="998">90</text></g>
<g id="B91" class="w"><circle cx="767" cy="1013" r="26"/><text x="767" y="1019">91</text></g>
<g id="B92" class="w"><circle cx="856" cy="1030" r="26"/><text x="856" y="1036">92</text></g>
<g id="B93" class="w"><circle cx="956" cy="1022" r="26"/><text x="956" y="1028">93</text></g>
<g id="B94" class="w"><circle cx="1063" cy="897" r="26"/><text x="1063" y="903">94</text></g>
<g id="B95" class="w"><circle cx="1179" cy="859" r="26"/><text x="1179" y="865">95</text></g>
<g id="B96" class="w"><circle cx="1279" cy="863" r="26"/><text x="1279" y="869">96</text></g>
<g id="B97" class="w"><circle cx="1371" cy="883" r="26"/><text x="1371" y="889">97</text></g>
<g id="B98" class="w"><circle cx="1456" cy="908" r="26"/><text x="1456" y="914">98</text></g>
<g id="B99" class="w"><circle cx="1539" cy="935" r="26"/><text x="1539" y="941">99</text></g>
</g>
</g>
</svg>
